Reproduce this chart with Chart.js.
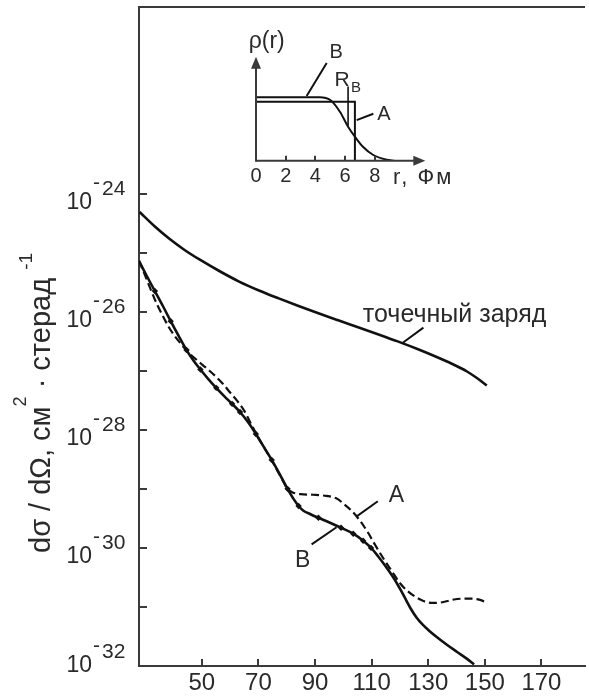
<!DOCTYPE html>
<html>
<head>
<meta charset="utf-8">
<title>Сечение рассеяния электронов</title>
<script src="https://cdn.jsdelivr.net/npm/chart.js@4.4.1/dist/chart.umd.min.js"></script>
<style>
  html, body { margin:0; padding:0; background:#ffffff; }
  #wrap { position:relative; width:589px; height:697px; overflow:hidden; background:#fff; }
  #main { position:absolute; left:0; top:0; }
  #inset { position:absolute; left:226px; top:30px; }
</style>
</head>
<body>
<div id="wrap">
  <canvas id="main" width="589" height="697"></canvas>
  <canvas id="inset" width="270" height="165"></canvas>
</div>
<script>
// ---------------- data ----------------
// scattering angle (degrees) and cross section dσ/dΩ (cm^2 / sr)
const pointChargeAngle = [28.0, 33.4, 38.66, 43.91, 49.16, 56.17, 63.17, 70.18, 77.18, 84.19, 91.19, 98.2,
                          105.2, 112.2, 119.2, 126.2, 133.2, 138.5, 143.7, 147.2, 150.7];
const pointChargeSigma = [4.88e-25, 2.77e-25, 1.70e-25, 1.11e-25, 7.66e-26, 4.89e-26, 3.24e-26, 2.29e-26,
                          1.68e-26, 1.25e-26, 9.40e-27, 7.15e-27, 5.47e-27, 4.16e-27, 3.14e-27, 2.33e-27,
                          1.69e-27, 1.30e-27, 9.71e-28, 7.53e-28, 5.62e-28];

// model A: uniformly charged sphere (dashed)
const modelAAngle = [27.8, 29.9, 32.0, 34.1, 36.2, 38.3, 40.4, 42.9, 45.3, 47.8, 50.2, 52.7, 55.2, 57.6,
                     60.0, 62.5, 65.0, 67.4, 69.8, 72.6, 75.4, 78.2, 80.3, 82.1, 84.9, 89.4, 94.0, 97.5,
                     100.3, 103.1, 105.9, 108.7, 111.5, 114.3, 117.1, 119.9, 122.7, 125.5, 128.3, 131.5,
                     135.0, 138.5, 142.0, 145.5, 148.3, 150.4];
const modelASigma = [7.24e-26, 4.17e-26, 2.34e-26, 1.35e-26, 8.51e-27, 5.50e-27, 3.89e-27, 2.75e-27,
                     2.04e-27, 1.58e-27, 1.26e-27, 1.00e-27, 7.76e-28, 5.89e-28, 4.27e-28, 3.09e-28,
                     2.09e-28, 1.26e-28, 7.59e-29, 4.47e-29, 2.63e-29, 1.51e-29, 1.00e-29, 8.71e-30,
                     8.13e-30, 7.94e-30, 7.59e-30, 6.92e-30, 5.50e-30, 4.17e-30, 2.88e-30, 1.82e-30,
                     1.07e-30, 6.46e-31, 4.07e-31, 2.57e-31, 1.86e-31, 1.48e-31, 1.26e-31, 1.17e-31,
                     1.20e-31, 1.32e-31, 1.38e-31, 1.38e-31, 1.32e-31, 1.20e-31];

// model B: diffuse (Fermi) charge distribution (solid)
const modelBAngle = [27.8, 30.6, 33.4, 36.2, 39.0, 41.8, 44.6, 47.1, 49.5, 52.3, 55.1, 57.9, 60.7, 63.5,
                     66.3, 69.1, 71.9, 74.7, 77.5, 80.3, 82.4, 84.2, 85.9, 88.4, 91.2, 94.7, 99.2, 103.5,
                     107.0, 109.8, 112.2, 115.0, 117.8, 120.26, 122.36, 124.11, 125.86, 127.96, 130.41,
                     133.22, 136.72, 140.22, 143.73, 146.18];
const modelBSigma = [7.24e-26, 3.98e-26, 2.24e-26, 1.26e-26, 6.92e-27, 3.89e-27, 2.24e-27, 1.48e-27,
                     1.05e-27, 7.24e-28, 5.13e-28, 3.72e-28, 2.75e-28, 2.00e-28, 1.35e-28, 8.51e-29,
                     5.13e-29, 3.09e-29, 1.78e-29, 1.00e-29, 6.76e-30, 5.13e-30, 4.27e-30, 3.72e-30,
                     3.24e-30, 2.75e-30, 2.19e-30, 1.74e-30, 1.32e-30, 1.00e-30, 7.30e-31, 4.84e-31,
                     3.09e-31, 1.94e-31, 1.26e-31, 8.87e-32, 6.62e-32, 5.05e-32, 3.92e-32, 3.04e-32,
                     2.27e-32, 1.73e-32, 1.32e-32, 1.06e-32];

// experimental points (on curve B)
const expAngle = [33.4, 39.0, 44.6, 49.5, 55.1, 60.7, 63.5, 69.1, 74.7, 80.3, 84.2, 91.2, 99.2, 103.5, 107.0, 109.8];
const expSigma = [2.24e-26, 6.92e-27, 2.24e-27, 1.05e-27, 5.13e-28, 2.75e-28, 2.00e-28, 8.51e-29, 3.09e-29,
                  1.00e-29, 5.13e-30, 3.24e-30, 2.19e-30, 1.74e-30, 1.32e-30, 1.00e-30];

const xTickValues = [50, 70, 90, 110, 130, 150, 170];
const yTickExponents = [-32, -31, -30, -29, -28, -27, -26, -25, -24];
const yLabelExponents = [-32, -30, -28, -26, -24];

// inset: charge density ρ(r), r in fm
const insetTickValues = [0, 2, 4, 6, 8];
const rhoA_r = [0, 6.66, 6.66];
const rhoA_v = [0.93, 0.93, 0];
const rhoB_r = [0, 4.3, 5.0, 5.65, 6.2, 6.66, 7.2, 7.9, 8.8, 9.3];
const rhoB_v = [1.0, 1.0, 0.957, 0.773, 0.536, 0.379, 0.22, 0.09, 0.015, 0];
const radiusB_r = [6.2, 6.2];
const radiusB_v = [1.17, 0.55];

// ---------------- styling ----------------
const FAM = '"Liberation Sans", Arial, Helvetica, sans-serif';
const INK = '#111111';
const AXIS = '#3a3a3a';
const TEXT = '#2a2a2a';
Chart.defaults.font.family = FAM;

const pts = (xs, ys) => xs.map((x, i) => ({ x: x, y: ys[i] }));
const dec = e => Math.pow(10, e);

// annotation anchors in data coordinates
const mainNotes = {
  pointCharge: { text: 'точечный заряд', at: [106.9, 6.6e-27], lead: [[120.9, 2.95e-27], [128.3, 5.37e-27]] },
  A: { text: 'A', at: [118.8, 7.76e-30], lead: [[104.6, 3.39e-30], [112.2, 6.17e-30]] },
  B: { text: 'B', at: [85.6, 6.17e-31], lead: [[88.8, 1.15e-30], [97.6, 2.24e-30]] }
};

function line(ctx, x1, y1, x2, y2) {
  ctx.beginPath(); ctx.moveTo(x1, y1); ctx.lineTo(x2, y2); ctx.stroke();
}

const mainDecor = {
  id: 'mainDecor',
  afterDraw(chart) {
    const { ctx, chartArea: ca } = chart;
    const xs = chart.scales.x, ys = chart.scales.y;
    ctx.save();
    ctx.strokeStyle = AXIS; ctx.lineWidth = 2; ctx.lineCap = 'butt';
    // top frame line
    line(ctx, ca.left - 1, ca.top, ca.right, ca.top);
    // inward tick marks
    yTickExponents.forEach(e => {
      const py = Math.round(ys.getPixelForValue(dec(e)));
      line(ctx, ca.left, py, ca.left + 8, py);
    });
    xTickValues.forEach(v => {
      const px = Math.round(xs.getPixelForValue(v));
      line(ctx, px, ca.bottom, px, ca.bottom - 7);
    });
    // y tick labels 10^n
    ctx.fillStyle = TEXT; ctx.textBaseline = 'alphabetic';
    yLabelExponents.forEach((e, i) => {
      const lift = i === 0 ? 9 : 0;
      const py = ys.getPixelForValue(dec(e)) - lift;
      ctx.font = '23px ' + FAM; ctx.textAlign = 'right';
      ctx.fillText('10', ca.left - 47, py + 15);
      ctx.font = '21px ' + FAM; ctx.textAlign = 'left';
      ctx.fillText('-', ca.left - 46, py - 5);
      ctx.fillText(String(Math.abs(e)), ca.left - 37, py + 1);
    });
    // y axis title
    ctx.save();
    ctx.translate(50, 553);
    ctx.rotate(-Math.PI / 2);
    ctx.textAlign = 'left';
    let pos = 0;
    const seg = (t, size, rise) => {
      ctx.font = size + 'px ' + FAM; ctx.fillText(t, pos, -rise); pos += ctx.measureText(t).width;
    };
    seg('dσ / dΩ, см', 29, 0);
    seg('2', 18, 24);
    seg(' · стерад ', 29, 0);
    seg('-1', 19, 18);
    ctx.restore();
    // annotations
    ctx.lineWidth = 2; ctx.strokeStyle = INK;
    Object.values(mainNotes).forEach(n => {
      const p = n.lead.map(q => [xs.getPixelForValue(q[0]), ys.getPixelForValue(q[1])]);
      line(ctx, p[0][0], p[0][1], p[1][0], p[1][1]);
    });
    ctx.font = '25px ' + FAM; ctx.textAlign = 'left'; ctx.textBaseline = 'alphabetic';
    const pc = mainNotes.pointCharge;
    ctx.fillText(pc.text, xs.getPixelForValue(pc.at[0]), ys.getPixelForValue(pc.at[1]));
    ctx.font = '23px ' + FAM; ctx.textAlign = 'center'; ctx.textBaseline = 'middle';
    ['A', 'B'].forEach(k => {
      const n = mainNotes[k];
      ctx.fillText(n.text, xs.getPixelForValue(n.at[0]), ys.getPixelForValue(n.at[1]));
    });
    ctx.restore();
  }
};

new Chart(document.getElementById('main'), {
  type: 'line',
  data: {
    datasets: [
      { label: 'точечный заряд', data: pts(pointChargeAngle, pointChargeSigma), borderColor: INK,
        borderWidth: 2.6, pointRadius: 0, cubicInterpolationMode: 'monotone', fill: false },
      { label: 'A', data: pts(modelAAngle, modelASigma), borderColor: INK, borderWidth: 2.2,
        borderDash: [8, 4], pointRadius: 0, cubicInterpolationMode: 'monotone', fill: false },
      { label: 'B', data: pts(modelBAngle, modelBSigma), borderColor: INK, borderWidth: 2.6,
        pointRadius: 0, cubicInterpolationMode: 'monotone', fill: false },
      { label: 'эксперимент', data: pts(expAngle, expSigma), showLine: false, pointRadius: 3.2,
        pointStyle: 'rectRot', backgroundColor: INK, borderColor: INK, borderWidth: 0 }
    ]
  },
  options: {
    responsive: false, animation: false, devicePixelRatio: 1,
    layout: { padding: { top: 7, left: 0, right: 0, bottom: 0 } },
    plugins: { legend: { display: false }, tooltip: { enabled: false } },
    scales: {
      x: {
        type: 'linear', min: 27.8, max: 185.4,
        afterBuildTicks: s => { s.ticks = xTickValues.map(v => ({ value: v })); },
        afterFit: s => { s.height = 31; },
        grid: { display: false, drawTicks: false },
        border: { display: true, color: AXIS, width: 2 },
        ticks: { font: { family: FAM, size: 24 }, color: TEXT, padding: 3, maxRotation: 0, autoSkip: false,
                 callback: v => String(v) }
      },
      y: {
        type: 'logarithmic', min: 1e-32, max: 1.445e-21,
        afterFit: s => { s.width = 139; },
        grid: { display: false, drawTicks: false },
        border: { display: true, color: AXIS, width: 2 },
        ticks: { display: false }
      }
    }
  },
  plugins: [mainDecor]
});

// ---------------- inset ----------------
const insetNotes = {
  rho: { text: 'ρ(r)', at: [0.72, 1.87] },
  axis: { text: 'r, Фм', at: [9.23, -0.27] },
  B: { text: 'B', at: [5.39, 1.70], lead: [[3.41, 1.02], [4.76, 1.54]] },
  A: { text: 'A', at: [8.62, 0.73], lead: [[6.78, 0.64], [7.9, 0.74]] },
  R: { at: [5.8, 1.27], sub: [6.73, 1.15] }
};

const insetDecor = {
  id: 'insetDecor',
  afterDraw(chart) {
    const { ctx } = chart;
    const xs = chart.scales.x, ys = chart.scales.y;
    const X = v => xs.getPixelForValue(v), Y = v => ys.getPixelForValue(v);
    const x0 = X(0), y0 = Y(0), xEnd = X(xs.max), yEnd = Y(ys.max);
    ctx.save();
    ctx.strokeStyle = AXIS; ctx.fillStyle = AXIS; ctx.lineWidth = 2;
    line(ctx, x0, y0, xEnd - 8, y0);
    line(ctx, x0, y0 + 1, x0, yEnd + 8);
    ctx.beginPath(); ctx.moveTo(xEnd, y0); ctx.lineTo(xEnd - 12, y0 - 5); ctx.lineTo(xEnd - 12, y0 + 5); ctx.closePath(); ctx.fill();
    ctx.beginPath(); ctx.moveTo(x0, yEnd); ctx.lineTo(x0 - 5, yEnd + 12); ctx.lineTo(x0 + 5, yEnd + 12); ctx.closePath(); ctx.fill();
    insetTickValues.slice(1).forEach(v => { const px = Math.round(X(v)); line(ctx, px, y0, px, y0 - 5); });
    ctx.strokeStyle = INK;
    ['B', 'A'].forEach(k => {
      const l = insetNotes[k].lead;
      line(ctx, X(l[0][0]), Y(l[0][1]), X(l[1][0]), Y(l[1][1]));
    });
    ctx.fillStyle = TEXT; ctx.textAlign = 'center'; ctx.textBaseline = 'middle';
    ctx.font = '23px ' + FAM;
    ctx.fillText(insetNotes.rho.text, X(insetNotes.rho.at[0]), Y(insetNotes.rho.at[1]));
    ctx.font = '20px ' + FAM;
    ctx.fillText('B', X(insetNotes.B.at[0]), Y(insetNotes.B.at[1]));
    ctx.fillText('A', X(insetNotes.A.at[0]), Y(insetNotes.A.at[1]));
    ctx.font = '21px ' + FAM;
    ctx.fillText('R', X(insetNotes.R.at[0]), Y(insetNotes.R.at[1]));
    ctx.font = '15px ' + FAM;
    ctx.fillText('B', X(insetNotes.R.sub[0]), Y(insetNotes.R.sub[1]));
    ctx.font = '22px ' + FAM; ctx.textAlign = 'left';
    ctx.letterSpacing = '2px';
    ctx.fillText(insetNotes.axis.text, X(insetNotes.axis.at[0]), Y(insetNotes.axis.at[1]));
    ctx.letterSpacing = '0px';
    ctx.restore();
  }
};

new Chart(document.getElementById('inset'), {
  type: 'line',
  data: {
    datasets: [
      { label: 'A', data: pts(rhoA_r, rhoA_v), borderColor: INK, borderWidth: 2, pointRadius: 0, tension: 0, fill: false },
      { label: 'B', data: pts(rhoB_r, rhoB_v), borderColor: INK, borderWidth: 2, pointRadius: 0,
        cubicInterpolationMode: 'monotone', fill: false },
      { label: 'R_B', data: pts(radiusB_r, radiusB_v), borderColor: INK, borderWidth: 1.6, pointRadius: 0, fill: false }
    ]
  },
  options: {
    responsive: false, animation: false, devicePixelRatio: 1,
    layout: { padding: { left: 30, right: 70.7, top: 26.7, bottom: 0 } },
    plugins: { legend: { display: false }, tooltip: { enabled: false } },
    scales: {
      x: {
        type: 'linear', min: 0, max: 11.4,
        afterBuildTicks: s => { s.ticks = insetTickValues.map(v => ({ value: v })); },
        afterFit: s => { s.height = 34.3; },
        grid: { display: false, drawTicks: false },
        border: { display: false },
        ticks: { font: { family: FAM, size: 20 }, color: TEXT, padding: 4, maxRotation: 0, autoSkip: false,
                 callback: v => String(v) }
      },
      y: { type: 'linear', display: false, min: 0, max: 1.64 }
    }
  },
  plugins: [insetDecor]
});
</script>
</body>
</html>
